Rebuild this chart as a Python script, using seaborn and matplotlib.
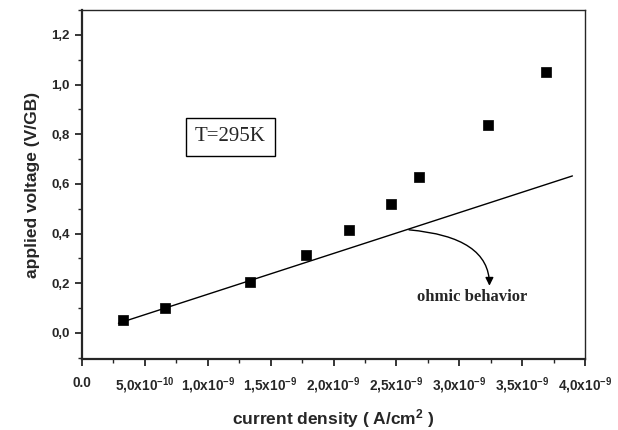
import numpy as np
import pandas as pd
import matplotlib
matplotlib.use("Agg")
import matplotlib.pyplot as plt
import seaborn as sns
from matplotlib.ticker import FixedLocator, MultipleLocator

# data
current_density = [0.33e-9, 0.664e-9, 1.336e-9, 1.784e-9, 2.12e-9, 2.456e-9, 2.68e-9, 3.23e-9, 3.686e-9]
applied_voltage = [0.050, 0.101, 0.205, 0.312, 0.416, 0.521, 0.627, 0.838, 1.049]
ohmic_x = [0.29e-9, 3.9e-9]
ohmic_y = [0.039, 0.632]
xtick_vals = [0.0, 0.5e-9, 1.0e-9, 1.5e-9, 2.0e-9, 2.5e-9, 3.0e-9, 3.5e-9, 4.0e-9]
xtick_labels = ["0.0", r"5,0x10$^{\mathbf{-10}}$", r"1,0x10$^{\mathbf{-9}}$", r"1,5x10$^{\mathbf{-9}}$",
                r"2,0x10$^{\mathbf{-9}}$", r"2,5x10$^{\mathbf{-9}}$", r"3,0x10$^{\mathbf{-9}}$",
                r"3,5x10$^{\mathbf{-9}}$", r"4,0x10$^{\mathbf{-9}}$"]
ytick_vals = [0.0, 0.2, 0.4, 0.6, 0.8, 1.0, 1.2]
ytick_labels = ["0,0", "0,2", "0,4", "0,6", "0,8", "1,0", "1,2"]

sns.set_style("ticks")
plt.rcParams['font.family'] = ['Liberation Sans', 'DejaVu Sans']
plt.rcParams['mathtext.fontset'] = 'custom'
plt.rcParams['mathtext.rm'] = 'Liberation Sans:bold'
plt.rcParams['mathtext.it'] = 'Liberation Sans:bold'
plt.rcParams['mathtext.bf'] = 'Liberation Sans:bold'
plt.rcParams['axes.unicode_minus'] = False

fig = plt.figure(figsize=(6.18, 4.30), dpi=100)
ax = fig.add_axes([82/618, 1 - 359/430, 503/618, 349/430])

df = pd.DataFrame({"x": current_density, "y": applied_voltage})
dl = pd.DataFrame({"x": ohmic_x, "y": ohmic_y})
sns.lineplot(data=dl, x="x", y="y", ax=ax, color="black", linewidth=1.0)
sns.scatterplot(data=df, x="x", y="y", ax=ax, marker="s", s=42, color="black",
                edgecolor="black", linewidth=0.5, zorder=3)

ax.set_xlim(0, 4.0e-9)
ax.set_ylim(-0.105, 1.3)
ax.xaxis.set_major_locator(FixedLocator(xtick_vals))
ax.set_xticklabels(xtick_labels)
ax.xaxis.set_minor_locator(MultipleLocator(0.25e-9))
ax.yaxis.set_major_locator(FixedLocator(ytick_vals))
ax.set_yticklabels(ytick_labels)
ax.yaxis.set_minor_locator(MultipleLocator(0.1))

ax.tick_params(axis='x', which='major', direction='out', length=5, width=1.3,
               labelsize=9.8, pad=7)
ax.tick_params(axis='y', which='major', direction='out', length=5, width=1.3,
               labelsize=9.5, pad=4)
ax.tick_params(axis='both', which='minor', direction='out', length=3, width=1.0)
for lab in ax.get_xticklabels() + ax.get_yticklabels():
    lab.set_fontweight('bold')

for s in ['left', 'bottom']:
    ax.spines[s].set_linewidth(1.6)
for s in ['top', 'right']:
    ax.spines[s].set_linewidth(1.0)
    ax.spines[s].set_visible(True)

ax.set_xlabel("current density ( A/cm$^2$ )", fontsize=12.5, fontweight='bold', labelpad=8)
ax.set_ylabel("applied voltage (V/GB)", fontsize=12.5, fontweight='bold', labelpad=8)

# T=295K box
ax.text(1.18e-9, 0.79, "T=295K", family=['Liberation Serif'], fontsize=15,
        ha='center', va='center',
        bbox=dict(boxstyle='square,pad=0.45', facecolor='white', edgecolor='black', linewidth=1.0))

# ohmic behavior annotation
ax.annotate("", xy=(3.24e-9, 0.19), xytext=(2.6e-9, 0.415),
            arrowprops=dict(arrowstyle='-|>', color='black', lw=1.0,
                            connectionstyle='angle3,angleA=-5,angleB=-90',
                            shrinkA=0, shrinkB=0, mutation_scale=12))
ax.text(3.1e-9, 0.145, "ohmic behavior", family=['Liberation Serif'], fontsize=12,
        fontweight='bold', ha='center', va='center')

fig.savefig("out.png", dpi=100)
